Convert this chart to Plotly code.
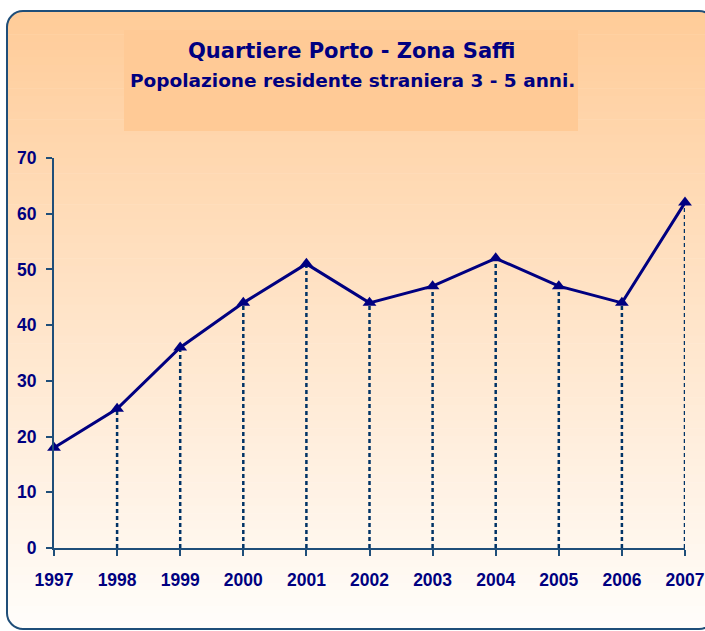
import plotly.graph_objects as go

years = [1997, 1998, 1999, 2000, 2001, 2002, 2003, 2004, 2005, 2006, 2007]
values = [18, 25, 36, 44, 51, 44, 47, 52, 47, 44, 62]
y_ticks = [0, 10, 20, 30, 40, 50, 60, 70]
title_main = "Quartiere Porto - Zona Saffi"
title_sub = "Popolazione residente straniera 3 - 5 anni."

W, H = 705, 631
L, R, T, B = 54, 20, 158, 631 - 548
PW, PH = W - L - R, H - T - B

def px(x):
    return (x - L) / PW

def py(y):
    return (H - B - y) / PH

NAVY = "#000080"
AXIS = "#1F4E79"
DROP = "#003366"

shapes = []
top_c = (255, 204, 153)
bot_c = (255, 253, 250)
x0b, x1b, y0b, y1b = 7, 715, 11, 629
n = 80
for i in range(n):
    ya = y0b + (y1b - y0b) * i / n
    yb = y0b + (y1b - y0b) * (i + 1) / n + 0.6
    t = i / (n - 1)
    c = tuple(round(top_c[k] + (bot_c[k] - top_c[k]) * t) for k in range(3))
    shapes.append(dict(type="rect", xref="paper", yref="paper", layer="below",
                       x0=px(x0b), x1=px(x1b), y0=py(ya), y1=py(yb),
                       fillcolor="rgb(%d,%d,%d)" % c, line=dict(width=0)))

# title box
shapes.append(dict(type="rect", xref="paper", yref="paper", layer="below",
                   x0=px(124), x1=px(578), y0=py(30), y1=py(131),
                   fillcolor="#FFCA96", line=dict(width=0)))

r = 16
k = 0.55

def corner_mask(cx, cy, sx, sy):
    p0 = (cx + sx * r, cy)
    p1 = (cx, cy + sy * r)
    c1 = (cx + sx * r * (1 - k), cy)
    c2 = (cx, cy + sy * r * (1 - k))
    ex = (cx - sx * 2, cy - sy * 2)
    path = "M %f,%f C %f,%f %f,%f %f,%f L %f,%f L %f,%f L %f,%f Z" % (
        px(p0[0]), py(p0[1]),
        px(c1[0]), py(c1[1]), px(c2[0]), py(c2[1]), px(p1[0]), py(p1[1]),
        px(ex[0]), py(p1[1]), px(ex[0]), py(ex[1]), px(p0[0]), py(ex[1]))
    return dict(type="path", xref="paper", yref="paper", layer="below",
                path=path, fillcolor="white", line=dict(width=0))

shapes.append(corner_mask(x0b, y0b, 1, 1))
shapes.append(corner_mask(x1b, y0b, -1, 1))
shapes.append(corner_mask(x0b, y1b, 1, -1))
shapes.append(corner_mask(x1b, y1b, -1, -1))

def bp(x, y):
    return "%f,%f" % (px(x), py(y))

kk = r * (1 - k)
border = ("M " + bp(x0b + r, y0b) + " L " + bp(x1b - r, y0b) +
          " C " + bp(x1b - kk, y0b) + " " + bp(x1b, y0b + kk) + " " + bp(x1b, y0b + r) +
          " L " + bp(x1b, y1b - r) +
          " C " + bp(x1b, y1b - kk) + " " + bp(x1b - kk, y1b) + " " + bp(x1b - r, y1b) +
          " L " + bp(x0b + r, y1b) +
          " C " + bp(x0b + kk, y1b) + " " + bp(x0b, y1b - kk) + " " + bp(x0b, y1b - r) +
          " L " + bp(x0b, y0b + r) +
          " C " + bp(x0b, y0b + kk) + " " + bp(x0b + kk, y0b) + " " + bp(x0b + r, y0b) + " Z")
shapes.append(dict(type="path", xref="paper", yref="paper", layer="below",
                   path=border, line=dict(color=AXIS, width=2)))

fig = go.Figure()

# dotted drop lines (the first point sits on the y axis)
dx, dy = [], []
for x, v in zip(years[1:], values[1:]):
    dx += [x, x, None]
    dy += [0, v, None]
fig.add_trace(go.Scatter(x=dx, y=dy, mode="lines",
                         line=dict(color=DROP, width=2.5, dash="4px,3px"),
                         hoverinfo="skip", showlegend=False, cliponaxis=False))

fig.add_trace(go.Scatter(x=years, y=values, mode="lines+markers",
                         line=dict(color=NAVY, width=3),
                         marker=dict(symbol="triangle-up", size=12, color=NAVY),
                         showlegend=False, cliponaxis=False))

TF = "DejaVu Sans, sans-serif"
AF = "Liberation Sans, Arial, sans-serif"

fig.update_layout(
    width=W, height=H,
    margin=dict(l=L, r=R, t=T, b=B, pad=0, autoexpand=False),
    paper_bgcolor="white", plot_bgcolor="rgba(0,0,0,0)",
    shapes=shapes,
    font=dict(family=AF, color=NAVY),
    annotations=[
        dict(text="<b>%s</b>" % title_main, xref="paper", yref="paper",
             x=px(352), y=py(51), showarrow=False,
             font=dict(size=21, color=NAVY, family=TF),
             xanchor="center", yanchor="middle"),
        dict(text="<b>%s</b>" % title_sub, xref="paper", yref="paper",
             x=px(352), y=py(80), showarrow=False,
             font=dict(size=18.5, color=NAVY, family=TF),
             xanchor="center", yanchor="middle"),
    ],
    xaxis=dict(range=[1997, 2007], tickvals=years,
               ticktext=["<b>%d</b>" % y for y in years],
               showline=True, linecolor=AXIS, linewidth=2, ticks="outside",
               ticklen=6, tickcolor=AXIS, tickwidth=2, showgrid=False, zeroline=False,
               tickfont=dict(size=17.5, color=NAVY, family=AF),
               ticklabelstandoff=9, automargin=False, ticklabeloverflow="allow"),
    yaxis=dict(range=[0, 70], tickvals=y_ticks,
               ticktext=["<b>%d</b>" % v for v in y_ticks],
               showline=True, linecolor=AXIS, linewidth=2, ticks="outside",
               ticklen=6, tickcolor=AXIS, tickwidth=2, showgrid=False, zeroline=False,
               tickfont=dict(size=17.5, color=NAVY, family=AF),
               ticklabelstandoff=6, automargin=False),
)

fig.write_html("out.html", config={"displayModeBar": False},
               post_script="document.body.style.margin='0';document.body.style.overflow='hidden';")
